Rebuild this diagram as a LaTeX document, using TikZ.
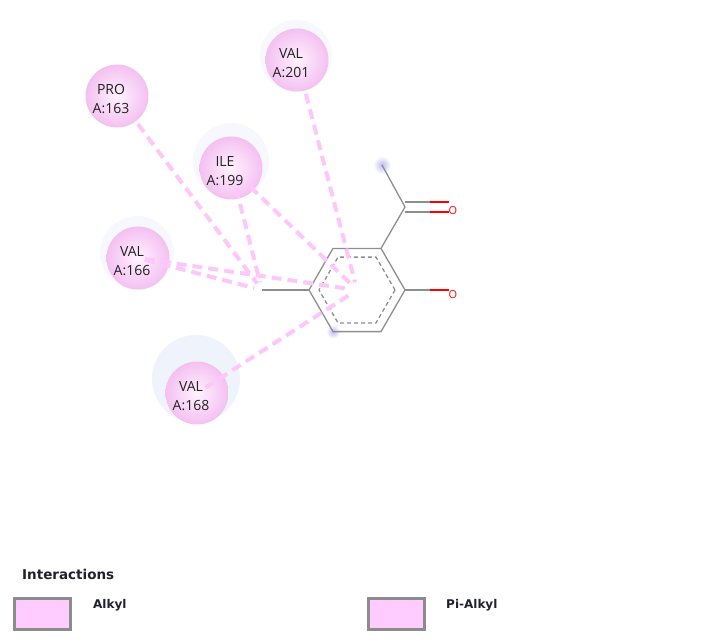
\documentclass[tikz,border=0pt]{standalone}
\usepackage{fontspec}
\newfontfamily\resfont{Open Sans}
\newfontfamily\legfont{DejaVu Sans}
\definecolor{bondgray}{HTML}{8E8E8E}
\definecolor{resin}{HTML}{FFF2FF}
\definecolor{resout}{HTML}{F4C0F1}
\definecolor{restext}{HTML}{222222}
\definecolor{alkylpink}{HTML}{FFC6FB}
\definecolor{halo}{HTML}{F7F8FE}
\definecolor{halostrong}{HTML}{EFF3FC}
\definecolor{glow}{HTML}{BDBDF4}
\definecolor{keypink}{HTML}{FFCCFF}
\definecolor{keygray}{HTML}{8C8C8C}
\definecolor{legtextc}{HTML}{202030}

\begin{document}
\begin{tikzpicture}
  [x=1pt,y=-1pt,
   res/.style={circle,minimum size=63pt,inner sep=0pt,shading=radial,inner color=resin,outer color=resout},
   reslabel/.style={font=\resfont\fontsize{14}{19}\selectfont,align=center,text=restext,inner sep=0pt},
   bond/.style={draw=bondgray,line width=1.3pt},
   obond/.style={draw=red,line width=1.3pt},
   ringdash/.style={draw=bondgray,line width=1.3pt,dash pattern=on 4pt off 3pt},
   oatom/.style={font=\resfont\fontsize{11}{13}\selectfont,text=red,inner sep=0pt},
   alkyl/.style={draw=alkylpink,line width=4pt,dash pattern=on 10pt off 6pt},
   keybox/.style={draw=keygray,fill=keypink,line width=3pt,minimum width=56pt,minimum height=31pt,inner sep=0pt},
   legtext/.style={font=\legfont\bfseries\fontsize{12}{14}\selectfont,text=legtextc,inner sep=0pt,anchor=base west}]
  \useasboundingbox (0,0) rectangle (722,644);
  % halos
  \fill[halo] (296,56) circle (36pt);
  \fill[halo] (231,161) circle (38pt);
  \fill[halo] (137,253) circle (37pt);
  \fill[halostrong] (196,379) circle (44pt);
  % ligand
  \coordinate (ctr) at (357,290);
  \coordinate (a1) at (405,290);
  \coordinate (a2) at (381,248.4);
  \coordinate (a3) at (333,248.4);
  \coordinate (a4) at (309,290);
  \coordinate (a5) at (333,331.6);
  \coordinate (a6) at (381,331.6);
  \coordinate (me) at (262,290);
  \coordinate (cc) at (405,207);
  \coordinate (cm) at (382,165);
  \shade[inner color=glow,outer color=white] (cm) circle (9pt);
  \shade[inner color=glow,outer color=white] (a5) circle (7pt);
  \node[oatom] (o1) at (453,211) {O};
  \node[oatom] (o2) at (453,295) {O};
  \draw[bond] (a1) -- (a2) -- (a3) -- (a4) -- (a5) -- (a6) -- cycle;
  \draw[ringdash] (395,290) -- (376,257.1) -- (338,257.1) -- (319,290) -- (338,322.9) -- (376,322.9) -- cycle;
  \draw[bond] (a4) -- (me);
  \draw[bond] (a2) -- (cc) -- (cm);
  \draw[bond] ([yshift=5pt]cc) -- ++(25,0) coordinate (d1);
  \draw[bond] ([yshift=-5pt]cc) -- ++(25,0) coordinate (d2);
  \draw[bond] (a1) -- ++(25,0) coordinate (h1);
  \draw[obond] (d1) -- (d1 -| o1.west);
  \draw[obond] (d2) -- (d2 -| o1.west);
  \draw[obond] (h1) -- (h1 -| o2.west);
  % residues
  \node[res] (p163) at (117,96) {};
  \node[res] (v201) at (297,60) {};
  \node[res] (i199) at (231,168) {};
  \node[res] (v166) at (138,258) {};
  \node[res] (v168) at (197,393) {};
  \node[reslabel] (p163t) at ([xshift=-6pt,yshift=-3pt]p163.center) {PRO\\A:163};
  \node[reslabel] (v201t) at ([xshift=-6pt,yshift=-3pt]v201.center) {VAL\\A:201};
  \node[reslabel] (i199t) at ([xshift=-6pt,yshift=-3pt]i199.center) {ILE\\A:199};
  \node[reslabel] (v166t) at ([xshift=-6pt,yshift=-3pt]v166.center) {VAL\\A:166};
  \node[reslabel] (v168t) at ([xshift=-6pt,yshift=-3pt]v168.center) {VAL\\A:168};
  \foreach \from/\to/\s in {p163/me/35,v201/ctr/35,i199/me/21,i199/ctr/27,v166/me/7,v166/ctr/7,v168/ctr/10}
    \draw[alkyl,shorten <=\s pt,shorten >=8pt] (\from.center) -- (\to);
  % legend
  \node[legtext,font=\legfont\bfseries\fontsize{13.5}{16}\selectfont] (keytitle) at (22,579) {Interactions};
  \node[keybox] (k1) at (42.5,614) {};
  \node[legtext] (k1t) at (93,608) {Alkyl};
  \node[keybox] (k2) at (396,614) {};
  \node[legtext] (k2t) at (446,608) {Pi-Alkyl};
\end{tikzpicture}
\end{document}
